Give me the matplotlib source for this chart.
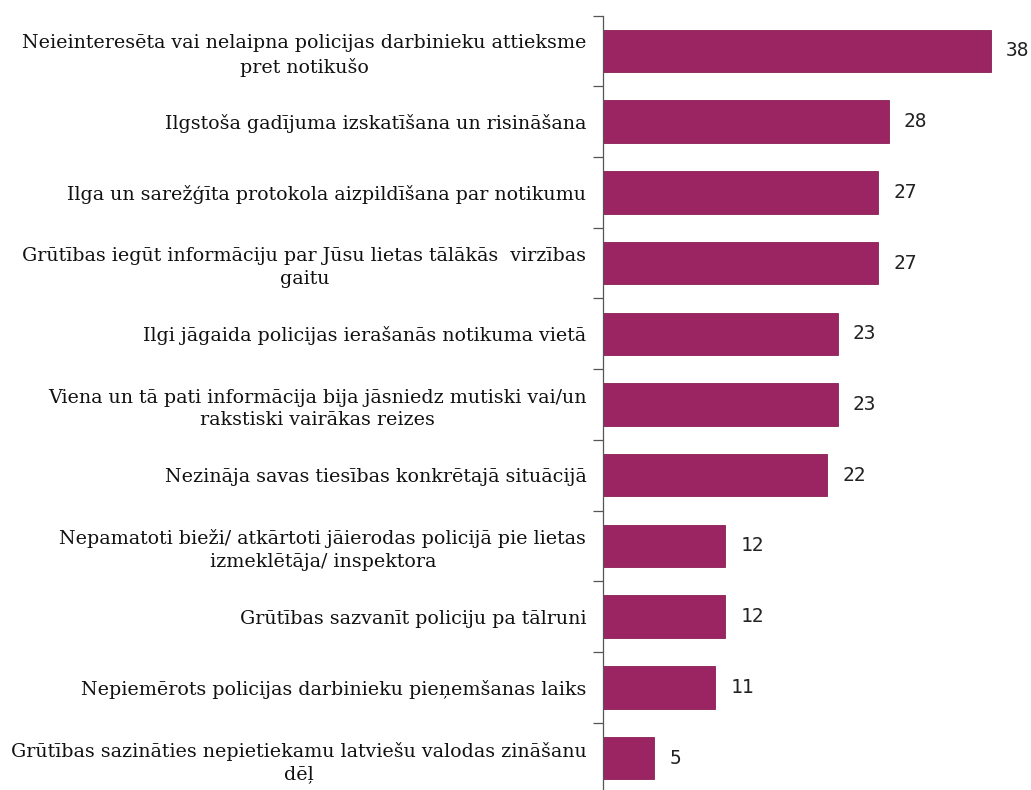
import matplotlib
matplotlib.use("Agg")
import matplotlib.pyplot as plt
import numpy as np

categories = [
    "Neieinteresēta vai nelaipna policijas darbinieku attieksme\npret notikušo",
    "Ilgstoša gadījuma izskatīšana un risināšana",
    "Ilga un sarežģīta protokola aizpildīšana par notikumu",
    "Grūtības iegūt informāciju par Jūsu lietas tālākās  virzības\ngaitu",
    "Ilgi jāgaida policijas ierašanās notikuma vietā",
    "Viena un tā pati informācija bija jāsniedz mutiski vai/un\nrakstiski vairākas reizes",
    "Nezināja savas tiesības konkrētajā situācijā",
    "Nepamatoti bieži/ atkārtoti jāierodas policijā pie lietas\nizmeklētāja/ inspektora",
    "Grūtības sazvanīt policiju pa tālruni",
    "Nepiemērots policijas darbinieku pieņemšanas laiks",
    "Grūtības sazināties nepietiekamu latviešu valodas zināšanu\ndēļ",
]
values = [38, 28, 27, 27, 23, 23, 22, 12, 12, 11, 5]

color = "#9b2462"
W, H = 1031, 790
fig = plt.figure(figsize=(W / 100, H / 100), dpi=100)
ax_left = 603 / W
ax_top = 1 - 15.5 / H
ax_bottom = 1 - 793.5 / H
ax = fig.add_axes([ax_left, ax_bottom, 1 - ax_left, ax_top - ax_bottom])

n = len(categories)
y = np.arange(n)
ax.barh(y, values, height=0.6, color=color, edgecolor="#8a1f55", linewidth=0.6)
ax.set_ylim(n - 0.5, -0.5)
ax.set_xlim(0, 428 / 10.2)

for yi, v in zip(y, values):
    ax.annotate(str(v), (v, yi), xytext=(11, 0), textcoords="offset points",
                va="center", ha="left", fontsize=14, family="DejaVu Sans Mono",
                color="#222222")

ax.set_yticks(y)
ax.set_yticklabels(categories, fontsize=13.7, family="DejaVu Serif",
                   multialignment="center", color="#111111", linespacing=1.35)
ax.tick_params(axis="y", which="major", length=0, pad=12)
ax.set_yticks(np.arange(-0.5, n, 1), minor=True)
ax.tick_params(axis="y", which="minor", length=7, width=0.9, color="#555555")
ax.set_xticks([])
for s in ["top", "right", "bottom"]:
    ax.spines[s].set_visible(False)
ax.spines["left"].set_color("#555555")
ax.spines["left"].set_linewidth(0.9)

fig.savefig("out.png", dpi=100)
